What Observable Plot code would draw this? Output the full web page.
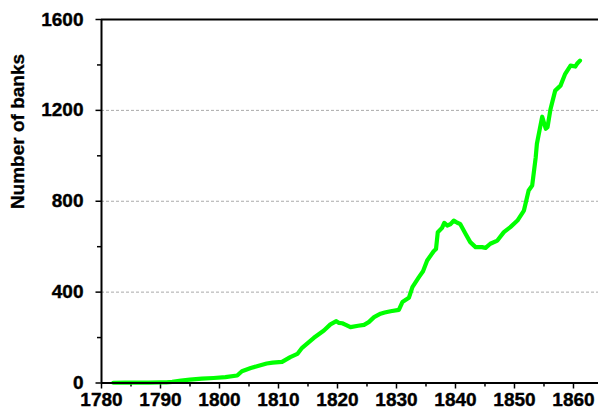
<!DOCTYPE html>
<html>
<head>
<meta charset="utf-8">
<script src="https://cdn.jsdelivr.net/npm/d3@7"></script>
<script src="https://cdn.jsdelivr.net/npm/@observablehq/plot@0.6"></script>
<style>
  html, body { margin: 0; padding: 0; background: #fff; }
  #chart svg { display: block; }
</style>
</head>
<body>
<div id="chart"></div>
<script>
const years = [1782, 1784, 1786, 1788, 1790, 1791, 1792, 1793.5, 1795, 1797, 1799, 1801, 1803, 1803.8,
  1805.3, 1806.5, 1808, 1809, 1810.6, 1812, 1813.2, 1814, 1815, 1816, 1817, 1817.7, 1818.8, 1819.8,
  1820.2, 1820.8, 1821.5, 1822.2, 1823.5, 1824.5, 1825.3, 1826.2, 1827.3, 1828, 1829, 1830.4, 1831,
  1832.1, 1832.7, 1833.8, 1834.5, 1835.2, 1836.3, 1836.7, 1837, 1837.7, 1838.1, 1838.6, 1839.2,
  1839.7, 1840.3, 1840.8, 1841.7, 1842.5, 1843.4, 1844.5, 1845.1, 1845.9, 1847.1, 1848.2, 1849.3,
  1850.5, 1851.6, 1852, 1852.4, 1853, 1853.6, 1853.8, 1854.3, 1854.7, 1855.3, 1855.6, 1856.1,
  1856.9, 1857.8, 1858.6, 1859.5, 1860.3, 1860.6, 1861.1];
const banks = [1, 2, 2, 2, 3, 3, 5, 11, 15, 19, 22, 26, 33, 52,
  66, 75, 86, 90, 93, 114, 128, 155, 177, 199, 218, 231, 258, 272,
  265, 263, 255, 246, 252, 256, 268, 290, 305, 310, 316, 322, 356,
  375, 422, 466, 492, 539, 580, 590, 664, 682, 705, 693, 700,
  715, 705, 700, 657, 620, 598, 598, 595, 613, 627, 664, 686,
  715, 759, 803, 847, 869, 994, 1053, 1120, 1172, 1119, 1126, 1205,
  1287, 1309, 1361, 1397, 1393, 1405, 1419];
const xMajorTicks = [1780, 1790, 1800, 1810, 1820, 1830, 1840, 1850, 1860];
const xMinorTicks = [1785, 1795, 1805, 1815, 1825, 1835, 1845, 1855];
const yMajorTicks = [0, 400, 800, 1200, 1600];
const yMinorTicks = [200, 600, 1000, 1400];
const gridValues = [400, 800, 1200];
const yTitle = "Number of banks";

const data = years.map((y, i) => ({year: y, banks: banks[i]}));
const font = "Arial, 'Liberation Sans', sans-serif";

const chart = Plot.plot({
  width: 598,
  height: 414,
  marginLeft: 101,
  marginRight: 0,
  marginTop: 19,
  marginBottom: 31.5,
  style: {fontFamily: font, background: "#fff"},
  x: {domain: [1780, 1864.24]},
  y: {domain: [0, 1600]},
  marks: [
    Plot.ruleY(gridValues, {stroke: "#aaa", strokeWidth: 1, strokeDasharray: "3,2"}),
    Plot.ruleY([1600], {stroke: "#000", strokeWidth: 2}),
    Plot.axisX({ticks: xMinorTicks, tickSize: 4, text: null, strokeWidth: 1.5, stroke: "#000", label: null}),
    Plot.axisX({ticks: xMajorTicks, tickSize: 6, text: null, strokeWidth: 1.5, stroke: "#000", label: null}),
    Plot.axisY({ticks: yMinorTicks, tickSize: 4, text: null, strokeWidth: 1.5, stroke: "#000", label: null}),
    Plot.axisY({ticks: yMajorTicks, tickSize: 5.5, text: null, strokeWidth: 1.5, stroke: "#000", label: null}),
    Plot.text(xMajorTicks, {x: d => d, frameAnchor: "bottom", dy: 23, text: d => String(d),
      fontSize: 19, fontWeight: "bold", fill: "#000", stroke: "#000", strokeWidth: 0.4, textAnchor: "middle"}),
    Plot.text(yMajorTicks, {y: d => d, frameAnchor: "left", dx: -18, text: d => String(d),
      fontSize: 19, fontWeight: "bold", fill: "#000", stroke: "#000", strokeWidth: 0.4, textAnchor: "end"}),
    Plot.line(data, {x: "year", y: "banks", stroke: "#00ff00", strokeWidth: 4.2, strokeLinejoin: "round"}),
    Plot.ruleX([1780], {stroke: "#000", strokeWidth: 2}),
    Plot.ruleY([0], {stroke: "#000", strokeWidth: 2}),
    Plot.text([yTitle], {x: () => 1780, y: () => 1107, text: d => d, rotate: -90, dx: -83.5,
      fontSize: 19, fontWeight: "bold", fill: "#000", stroke: "#000", strokeWidth: 0.3, textAnchor: "middle"})
  ]
});
document.getElementById("chart").appendChild(chart);
</script>
</body>
</html>
